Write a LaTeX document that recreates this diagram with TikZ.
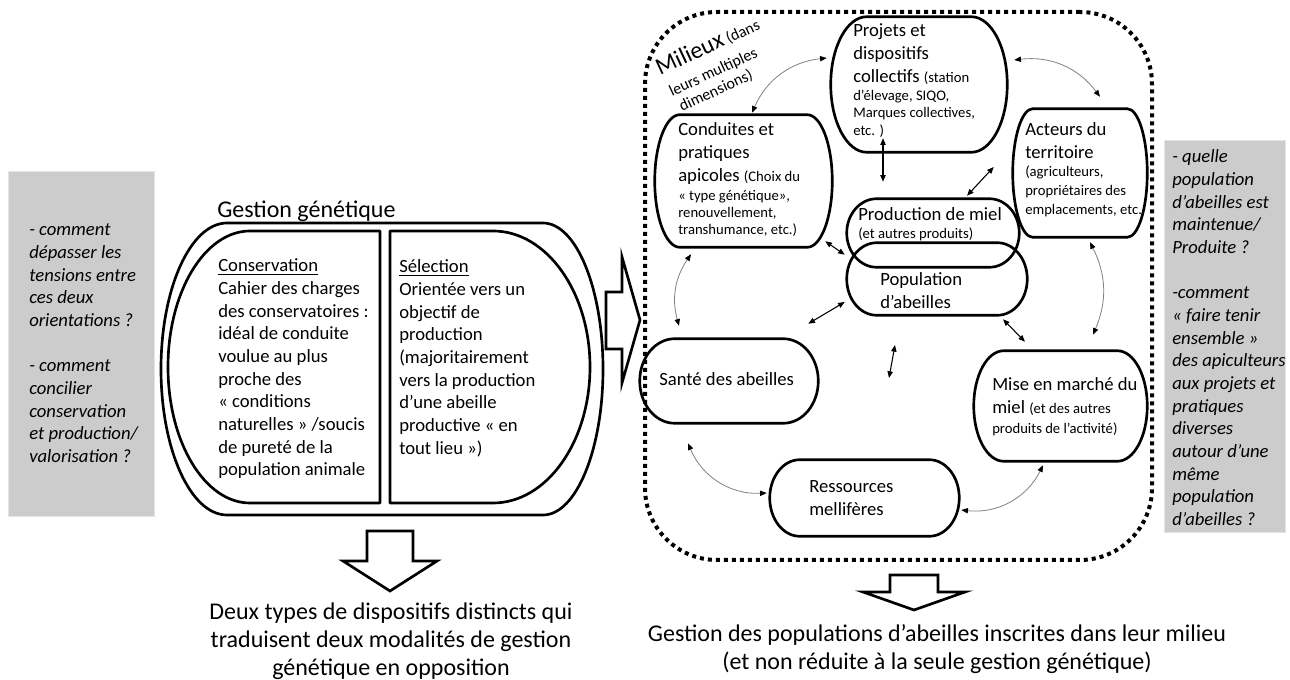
\documentclass[tikz,border=0pt]{standalone}
\usepackage{fontspec}
\setmainfont{Carlito}
\usetikzlibrary{arrows.meta,calc,fit}
\newcommand\tlines[1]{\begin{tabular}[t]{@{}l@{}}#1\end{tabular}}
\newcommand\tcent[1]{\begin{tabular}[t]{@{}c@{}}#1\end{tabular}}
\newcommand\fsBig{\fontsize{14}{17}\selectfont}
\newcommand\fsSm{\fontsize{11}{13}\selectfont}
\newcommand\fsLarge{\fontsize{18}{21}\selectfont}
\newcommand\eoutline[2]{%
 \draw[boxline] let \p1=(#1.north west), \p2=(#1.south east), \n1={(\y1-\y2)/2} in
  ([xshift=#2*0.75pt]#1.north west) -- ([xshift=-#2*0.75pt]#1.north east)
  arc[start angle=90, end angle=-90, x radius=#2*0.75pt, y radius=\n1]
  -- ([xshift=#2*0.75pt]#1.south west)
  arc[start angle=270, end angle=90, x radius=#2*0.75pt, y radius=\n1] -- cycle;}
\tikzset{
 boxline/.style={line width=2pt, line join=round},
 shapebox/.style={inner sep=0pt, draw=none},
 txt/.style={inner sep=0pt, anchor=base west, font=\fsBig},
 ctxt/.style={inner sep=0pt, anchor=base, font=\fsLarge},
 tip/.tip={Triangle[length=5pt,width=4pt]},
 dbl/.style={line width=0.8pt, tip-tip},
 curv/.style={draw=gray, line width=0.6pt, {Triangle[length=5pt,width=4pt,black]}-{Triangle[length=5pt,width=4pt,black]}},
 greybox/.style={inner sep=0pt, fill=gray!40, draw=gray!20, line width=0.5pt},
 blockarrow/.style={draw, fill=white, line width=2pt, line join=miter},
 frame/.style={inner sep=0pt, draw, line width=3pt, dash pattern=on 3pt off 3pt, rounded corners=54pt},
}
\begin{document}
\begin{tikzpicture}[x=0.75pt, y=-0.75pt]
\useasboundingbox (0,0) rectangle (1290,680);

% ---------- left grey box
\node[greybox, fit={(8,171)(154,516)}] (q1) {};
\node[txt, font=\fsBig\itshape] (q1t) at (29,236) {\tlines{- comment\\ dépasser les\\ tensions entre\\ ces deux\\ orientations ?\\[17pt] - comment\\ concilier\\ conservation\\ et production/\\ valorisation ?}};

% ---------- right grey box
\node[greybox, fit={(1164,140)(1285,532)}] (q2) {};
\node[txt, font=\fsBig\itshape] (q2t) at (1172,163) {\tlines{- quelle\\ population\\ d’abeilles est\\ maintenue/\\ Produite ?\\[17pt] -comment\\ « faire tenir\\ ensemble »\\ des apiculteurs\\ aux projets et\\ pratiques\\ diverses\\ autour d’une\\ même\\ population\\ d’abeilles ?}};

% ---------- gestion genetique
\node[txt, font=\fsLarge] (title) at (217,218) {Gestion génétique};
\node[shapebox, fit={(161,223)(603,515)}] (gestion) {};
\node[shapebox, fit={(168,231)(380,503)}] (conservation) {};
\node[shapebox, fit={(390,231)(590,503)}] (selection) {};
\draw[boxline] (227,223) -- (543,223) arc[start angle=90, end angle=-90, x radius=60*0.75pt, y radius=146*0.75pt]
  -- (227,515) arc[start angle=270, end angle=90, x radius=66*0.75pt, y radius=146*0.75pt] -- cycle;
\draw[boxline] (250,231) -- (380,231) -- (380,503) -- (250,503)
  arc[start angle=270, end angle=90, x radius=82*0.75pt, y radius=136*0.75pt] -- cycle;
\draw[boxline] (390,231) -- (493,231) arc[start angle=90, end angle=-90, x radius=97*0.75pt, y radius=136*0.75pt]
  -- (390,503) -- cycle;
\node[txt] (conservt) at (218,272) {\tlines{\underline{Conservation}\\ Cahier des charges\\ des conservatoires :\\ idéal de conduite\\ voulue au plus\\ proche des\\ « conditions\\ naturelles » /soucis\\ de pureté de la\\ population animale}};
\node[txt] (selectt) at (399,273) {\tlines{\underline{Sélection}\\ Orientée vers un\\ objectif de\\ production\\ (majoritairement\\ vers la production\\ d’une abeille\\ productive « en\\ tout lieu »)}};

% block arrows
\draw[blockarrow] (606,292) -- (622,292) -- (622,257) -- (640,320) -- (622,383) -- (622,349) -- (606,349) -- cycle;
\draw[blockarrow] (367,531) -- (413,531) -- (413,561) -- (437,561) -- (390,591) -- (343,561) -- (367,561) -- cycle;
\draw[blockarrow] (890,575) -- (938,575) -- (938,592) -- (965,592) -- (914,610) -- (863,592) -- (890,592) -- cycle;

\node[ctxt] (bl) at (391,620) {\tcent{Deux types de dispositifs distincts qui\\ traduisent deux modalités de gestion\\ génétique en opposition}};
\node[ctxt] (br) at (937,642) {\tcent{Gestion des populations d’abeilles inscrites dans leur milieu\\ (et non réduite à la seule gestion génétique)}};

% ---------- milieux frame
\node[frame, fit={(645,12)(1152,560)}] (milieux) {};
\node[inner sep=0pt, anchor=base west, rotate=25, font=\fontsize{12}{13.5}\selectfont] (milt) at (660,76)
  {\tlines{{\fontsize{18}{20}\selectfont Milieux} (dans\\[4.5pt] \hspace{1.5pt}leurs multiples\\ \hspace{3.5pt}dimensions)}};

% boxes
\node[shapebox, fit={(831,17)(1007,152)}] (projets) {};
\node[shapebox, fit={(655,115)(832,247)}] (conduites) {};
\node[shapebox, fit={(1013,109)(1147,237)}] (acteurs) {};
\node[shapebox, fit={(847,199)(1019,267)}] (production) {};
\node[shapebox, fit={(847,243)(1027,315)}] (population) {};
\node[shapebox, fit={(640,339)(818,423)}] (sante) {};
\node[shapebox, fit={(974,351)(1147,461)}] (mise) {};
\node[shapebox, fit={(770,460)(959,536)}] (ressources) {};
\eoutline{projets}{36}
\eoutline{conduites}{25}
\eoutline{acteurs}{20}
\eoutline{production}{30}
\eoutline{population}{30}
\eoutline{sante}{35}
\eoutline{mise}{30}
\eoutline{ressources}{30}

\node[txt] (projetst) at (853,37) {\tlines{Projets et\\ dispositifs\\ collectifs {\fsSm (station}\\[-3.5pt]
  {\fsSm d’élevage, SIQO,}\\[-4.25pt] {\fsSm Marques collectives,}\\[-3.5pt] {\fsSm etc. )}}};
\node[txt] (conduitest) at (678,136) {\tlines{Conduites et\\ pratiques\\ apicoles {\fsSm (Choix du}\\[-2.75pt]
  {\fsSm « type génétique»,}\\[-4.25pt] {\fsSm renouvellement,}\\[-4.25pt] {\fsSm transhumance, etc.)}}};
\node[txt] (acteurst) at (1025,136) {\tlines{Acteurs du\\ territoire\\[-3.5pt]
  {\fsSm (agriculteurs,}\\[-2.75pt] {\fsSm propriétaires des}\\[-2.75pt] {\fsSm emplacements, etc.}}};
\node[txt] (productiont) at (858,221) {\tlines{Production de miel\\[-3.5pt] {\fsSm (et autres produits)}}};
\node[txt] (populationt) at (880,286) {\tlines{Population\\ d’abeilles}};
\node[txt] (santet) at (659,386) {Santé des abeilles};
\node[txt] (miset) at (992,391) {\tlines{Mise en marché du\\ miel {\fsSm (et des autres}\\[-2pt] {\fsSm produits de l’activité)}}};
\node[txt] (ressourcest) at (809,493) {\tlines{Ressources\\ mellifères}};

% connectors
\draw[curv] ($(conduites.north)+(8.5,-2)$) to[bend left=30] ($(projets.west)+(-4,-26.5)$);
\draw[curv] ($(projets.east)+(7,-24.5)$) to[bend left=30] ($(acteurs.north)+(20,-12)$);
\draw[dbl] ($(projets.south)+(-36,-14)$) -- ($(production.north)+(-50,-17)$);
\draw[dbl] ($(acteurs.west)+(-19,-6)$) -- ($(production.north)+(34,-3)$);
\draw[dbl] ($(conduites.south east)+(-7,-6)$) -- ($(population.north west)+(-2,12)$);
\draw[dbl] ($(population.west)+(-2,23)$) -- ($(sante.north east)+(-10,-15)$);
\draw[dbl] ($(population.south)+(66,4)$) -- ($(mise.north)+(-35.5,-9)$);
\coordinate (fa) at (895,345);
\coordinate (fb) at (889,378);
\draw[dbl] (fa) -- (fb);
\draw[curv] ($(conduites.south)+(-52.5,7)$) to[bend right=25] ($(sante.north)+(-50,-13)$);
\draw[curv] ($(acteurs.south)+(10,5)$) to[bend left=25] ($(mise.north)+(32.5,-16)$);
\draw[curv] ($(sante.south)+(-41,20)$) to[bend right=35] ($(ressources.west)+(-3,-5)$);
\draw[curv] ($(ressources.east)+(2,12)$) to[bend right=35] ($(mise.south)+(-17.5,4)$);
\end{tikzpicture}
\end{document}
